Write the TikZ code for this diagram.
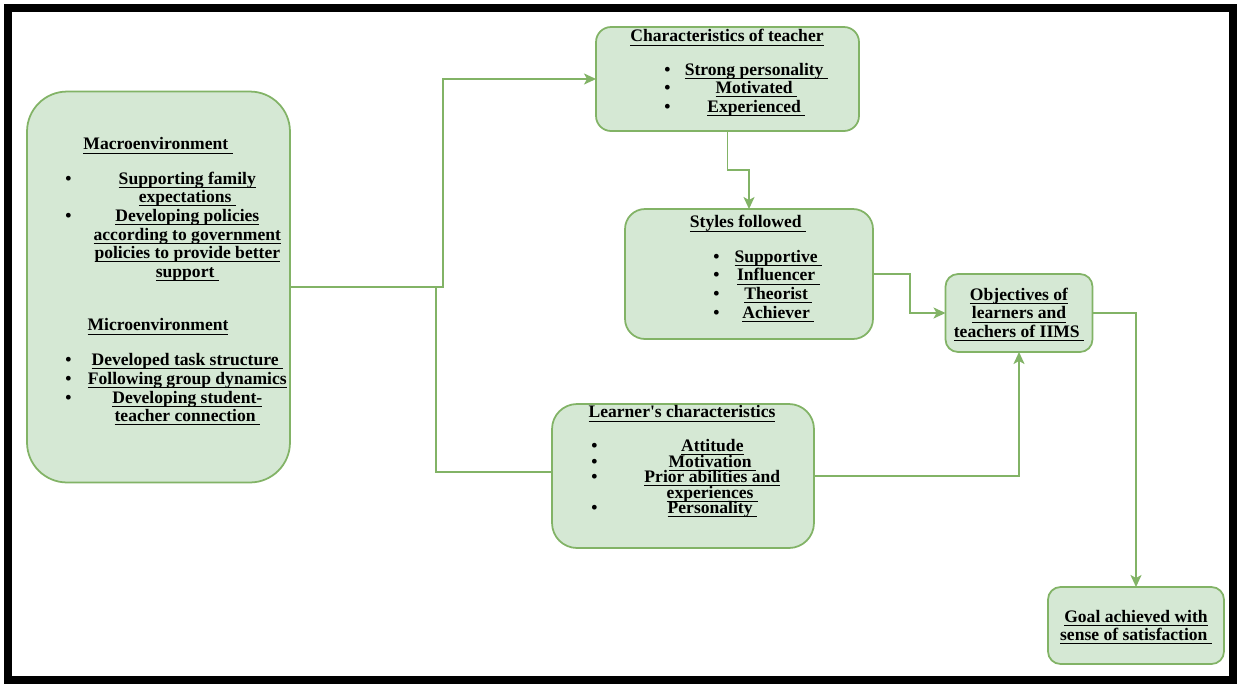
\documentclass[tikz,border=0pt]{standalone}
\usepackage{fontspec}
\setmainfont{Liberation Serif}
\usepackage{array}
\usepackage{tikz}
\usetikzlibrary{positioning, arrows.meta}
\definecolor{boxfill}{RGB}{213, 232, 212}
\definecolor{boxline}{RGB}{130, 179, 102}
\newsavebox{\ulbox}
\newcommand{\uline}[2][0pt]{\leavevmode\sbox{\ulbox}{#2\hspace{#1}}%
    \raisebox{-1.4pt}[6pt][2pt]{\rlap{\rule[-2.1pt]{\wd\ulbox}{0.6pt}}\usebox{\ulbox}}}
\newcommand{\ulsp}[1]{\uline[2.5pt]{#1}}
\newcommand{\blt}{\raisebox{-1.4pt}[6pt][2pt]{\textbullet}}
\newcolumntype{C}[1]{>{\centering\arraybackslash}p{#1}}
\newcommand{\figfont}{\fontsize{10}{10.6}\selectfont\bfseries}
\newcommand{\blist}[3]{\begin{tabular}{@{}C{0.2cm}@{\hspace{#2}}C{#1}@{}}#3\end{tabular}}

\begin{document}
\begin{tikzpicture}[x=0.02cm, y=-0.02cm,
        box/.style={draw=boxline, line width=1pt, fill=boxfill, inner sep=0pt, outer sep=0pt, align=center, font=\figfont},
        txt/.style={inner sep=0pt, align=center, font=\figfont},
        arr/.style={draw=boxline, line width=1pt, -{Stealth[length=0.24cm, width=0.22cm, inset=0.06cm]}},
        link/.style={draw=boxline, line width=1pt}
    ]
        \useasboundingbox (0,0) rectangle (1237,684);
        \fill[white] (0,0) rectangle (1237,684);
        \draw[line width=0.16cm] (8,8) rectangle (1233,680);

        % boxes
        \node[box, rounded corners=0.8cm, minimum width=5.26cm, minimum height=7.82cm] (macro) at (158.5,287) {};
        \node[box, rounded corners=0.3cm, minimum width=5.26cm, minimum height=2.08cm] (teacher) at (727.5,79) {};
        \node[box, rounded corners=0.4cm, minimum width=4.96cm, minimum height=2.6cm] (styles) at (749,274) {};
        \node[box, rounded corners=0.5cm, minimum width=5.24cm, minimum height=2.88cm] (learner) at (683,476) {};
        \node[box, rounded corners=0.25cm, minimum width=2.94cm, minimum height=1.56cm] (objectives) at (1019,313)
            {\uline{Objectives of}\\ \uline{learners and}\\ \ulsp{teachers of IIMS}};
        \node[box, rounded corners=0.25cm, minimum width=3.52cm, minimum height=1.54cm] (goal) at (1136,625.5)
            {\uline{Goal achieved with}\\ \ulsp{sense of satisfaction}};

        % texts in the boxes
        \node[txt] (macrotitle) at (158,144) {\ulsp{Macroenvironment}};
        \node[txt, anchor=west] (macrolist) at (63,224.5) {\blist{4.2cm}{0.18cm}{
            \blt & \uline{Supporting family}\\
            & \ulsp{expectations}\\
            \blt & \uline{Developing policies}\\
            & \uline{according to government}\\
            & \uline{policies to provide better}\\
            & \ulsp{support}}};
        \node[txt] (microtitle) at (158,325) {\uline{Microenvironment}};
        \node[txt, anchor=west] (microlist) at (63,387.5) {\blist{4.2cm}{0.18cm}{
            \blt & \ulsp{Developed task structure}\\
            \blt & \uline{Following group dynamics}\\
            \blt & \uline{Developing student-}\\
            & \ulsp{teacher connection}}};

        \node[txt] (teachertitle) at (727,36) {\uline{Characteristics of teacher}};
        \node[txt, anchor=west] (teacherlist) at (662,87.5) {\blist{3.2cm}{0.08cm}{
            \blt & \ulsp{Strong personality}\\
            \blt & \ulsp{Motivated}\\
            \blt & \ulsp{Experienced}}};

        \node[txt] (stylestitle) at (748,222) {\ulsp{Styles followed}};
        \node[txt, anchor=west] (styleslist) at (711,284) {\blist{2.0cm}{0.14cm}{
            \blt & \ulsp{Supportive}\\
            \blt & \ulsp{Influencer}\\
            \blt & \ulsp{Theorist}\\
            \blt & \ulsp{Achiever}}};

        \node[txt] (learnertitle) at (682,412) {\uline{Learner\textquotesingle s characteristics}};
        \node[txt, anchor=west, font=\figfont\fontsize{10}{8.8}\selectfont] (learnerlist) at (589,477) {\blist{3.2cm}{0.66cm}{
            \blt & \uline{Attitude}\\
            \blt & \ulsp{Motivation}\\
            \blt & \uline{Prior abilities and}\\
            & \ulsp{experiences}\\
            \blt & \ulsp{Personality}}};

        % connectors
        \coordinate (fork) at (443,287);
        \coordinate (fork2) at (436,287);
        \draw[arr] (macro.east) -- (fork) |- (teacher.west);
        \draw[link] (macro.east) -- (fork2) |- ([yshift=0.08cm]learner.west);
        \draw[arr] (teacher.south) -- ++(0,39) -| (styles.north);
        \draw[arr] (styles.east) -- ++(37,0) |- (objectives.west);
        \draw[arr] (learner.east) -| (objectives.south);
        \draw[arr] (objectives.east) -| (goal.north);
    \end{tikzpicture}
\end{document}
